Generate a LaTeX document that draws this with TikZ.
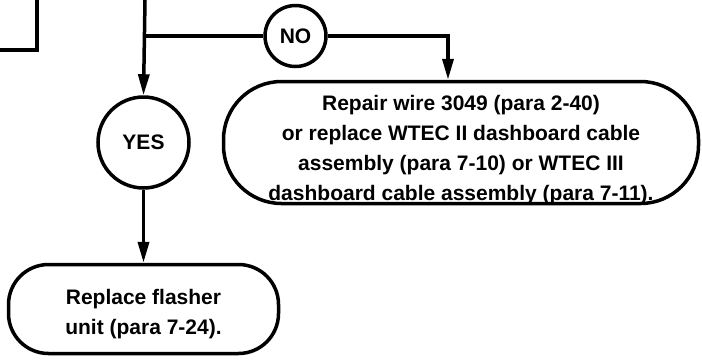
\documentclass[tikz,border=0pt]{standalone}
\usepackage{fontspec}
\setmainfont{Liberation Sans}
\usetikzlibrary{arrows.meta}
\begin{document}
\begin{tikzpicture}[x=1pt,y=-1pt,
  every node/.style={font=\bfseries\fontsize{21}{30}\selectfont, align=center},
  ln/.style={line width=3.5pt},
  arr/.style={ln, -{Triangle[length=21pt,width=11pt]}},
  decision/.style={ln, draw, circle, inner sep=0pt},
  action/.style={ln, draw, rectangle, inner sep=0pt}]
\useasboundingbox (0,0) rectangle (702,360);
\draw[ln] (0,50) -- (37,50) -- (37,0);
\coordinate (top) at (145,0);
\coordinate (junc) at (145,36);
\node[decision, minimum size=61pt] (no) at (295.5,36) {NO};
\node[decision, minimum size=91pt] (yes) at (143.5,142.5) {YES};
\node[action, rounded corners=58pt, minimum width=475pt, minimum height=122pt] (repair) at (461,142.5) {};
\node (repairtxt) at (461,150) {Repair wire 3049 (para 2-40)\\or replace WTEC II dashboard cable\\assembly (para 7-10) or WTEC III\\dashboard cable assembly (para 7-11).};
\node[action, rounded corners=40pt, minimum width=270pt, minimum height=89pt] (flasher) at (143.5,309) {};
\node (flashertxt) at (143.5,314) {Replace flasher\\unit (para 7-24).};
\coordinate (corner) at (448,36);
\draw[arr] (top) -- (yes.north);
\draw[ln] (junc) -- (no.west);
\draw[arr] (no.east) -- (corner) -- (repair.north -| corner);
\draw[arr] (yes.south) -- (flasher.north);
\end{tikzpicture}
\end{document}
